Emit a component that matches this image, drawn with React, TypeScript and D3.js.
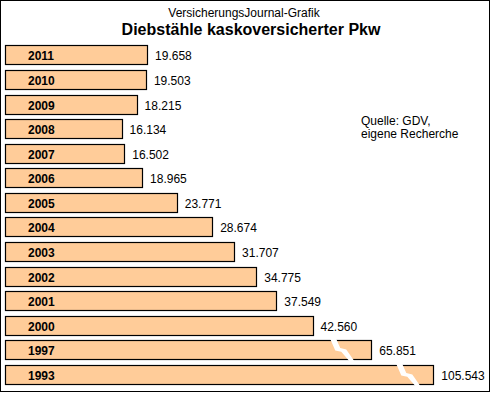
import React, { useEffect, useRef } from 'react';
import * as d3 from 'd3';

const years = ['2011', '2010', '2009', '2008', '2007', '2006', '2005', '2004', '2003', '2002', '2001', '2000', '1997', '1993'];
const thefts = [19658, 19503, 18215, 16134, 16502, 18965, 23771, 28674, 31707, 34775, 37549, 42560, 65851, 105543];
// bars above this value are drawn shortened with a break mark
const breakValue = 46500;

const App = () => {
  const ref = useRef<SVGSVGElement>(null);

  useEffect(() => {
    const width = 491;
    const height = 393;
    const svg = d3.select(ref.current);
    svg.selectAll('*').remove();

    const font = 'Arial, "Liberation Sans", sans-serif';
    const de = d3.formatLocale({ decimal: ',', thousands: '.', grouping: [3], currency: ['', ' €'] });
    const fmt = de.format(',d');

    // frame
    svg.append('rect')
      .attr('x', 0.5).attr('y', 0.5)
      .attr('width', width - 2).attr('height', height - 2)
      .attr('fill', '#fff').attr('stroke', '#000');

    svg.append('text')
      .attr('x', 244).attr('y', 17)
      .attr('text-anchor', 'middle')
      .attr('font-family', font).attr('font-size', 12)
      .text('VersicherungsJournal-Grafik');
    svg.append('text')
      .attr('x', 251).attr('y', 35)
      .attr('text-anchor', 'middle')
      .attr('font-family', font).attr('font-size', 16).attr('font-weight', 'bold')
      .text('Diebstähle kaskoversicherter Pkw');

    const src = svg.append('text')
      .attr('font-family', font).attr('font-size', 12);
    src.append('tspan').attr('x', 361).attr('y', 125).text('Quelle: GDV,');
    src.append('tspan').attr('x', 361).attr('y', 138).text('eigene Recherche');

    const x0 = 5;
    // broken scale: linear up to breakValue, compressed beyond
    const x = d3.scaleLinear()
      .domain([0, breakValue, 106000])
      .range([x0, x0 + 336, x0 + 429]);

    const y = d3.scaleBand()
      .domain(years)
      .range([43, 387])
      .paddingInner(0.2)
      .paddingOuter(0.1);

    const rows = svg.selectAll('g.row')
      .data(years.map((yr, i) => ({ yr, v: thefts[i] })))
      .enter().append('g')
      .attr('class', 'row')
      .attr('transform', d => `translate(0, ${Math.round(y(d.yr)!)})`);

    const bh = Math.round(y.bandwidth()) - 1;

    rows.append('rect')
      .attr('x', x0 + 0.5).attr('y', 0.5)
      .attr('width', d => Math.round(x(d.v) - x0))
      .attr('height', bh)
      .attr('fill', '#FFCC99')
      .attr('stroke', '#000')
      .attr('stroke-width', 1.2);

    // lightning-shaped break marks
    rows.filter(d => d.v > breakValue)
      .append('path')
      .attr('d', d => {
        const bx = x(d.v) - (d.v > 100000 ? 37 : 41);
        return `M${bx},-1 L${bx + 6},-1 L${bx + 10},${bh * 0.42} L${bx + 16},${bh * 0.5} L${bx + 24},${bh + 2} L${bx + 19},${bh + 2} L${bx + 11},${bh * 0.62} L${bx + 5},${bh * 0.55} Z`;
      })
      .attr('fill', '#fff');

    rows.append('text')
      .attr('x', 28).attr('y', bh / 2 + 5)
      .attr('font-family', font).attr('font-size', 12).attr('font-weight', 'bold')
      .text(d => d.yr);

    rows.append('text')
      .attr('x', d => x(d.v) + 8).attr('y', bh / 2 + 5)
      .attr('font-family', font).attr('font-size', 12)
      .text(d => fmt(d.v));
  }, []);

  return (
    <svg ref={ref} width={491} height={393} style={{ position: 'absolute', left: 0, top: 0, display: 'block' }} />
  );
};

export default App;
